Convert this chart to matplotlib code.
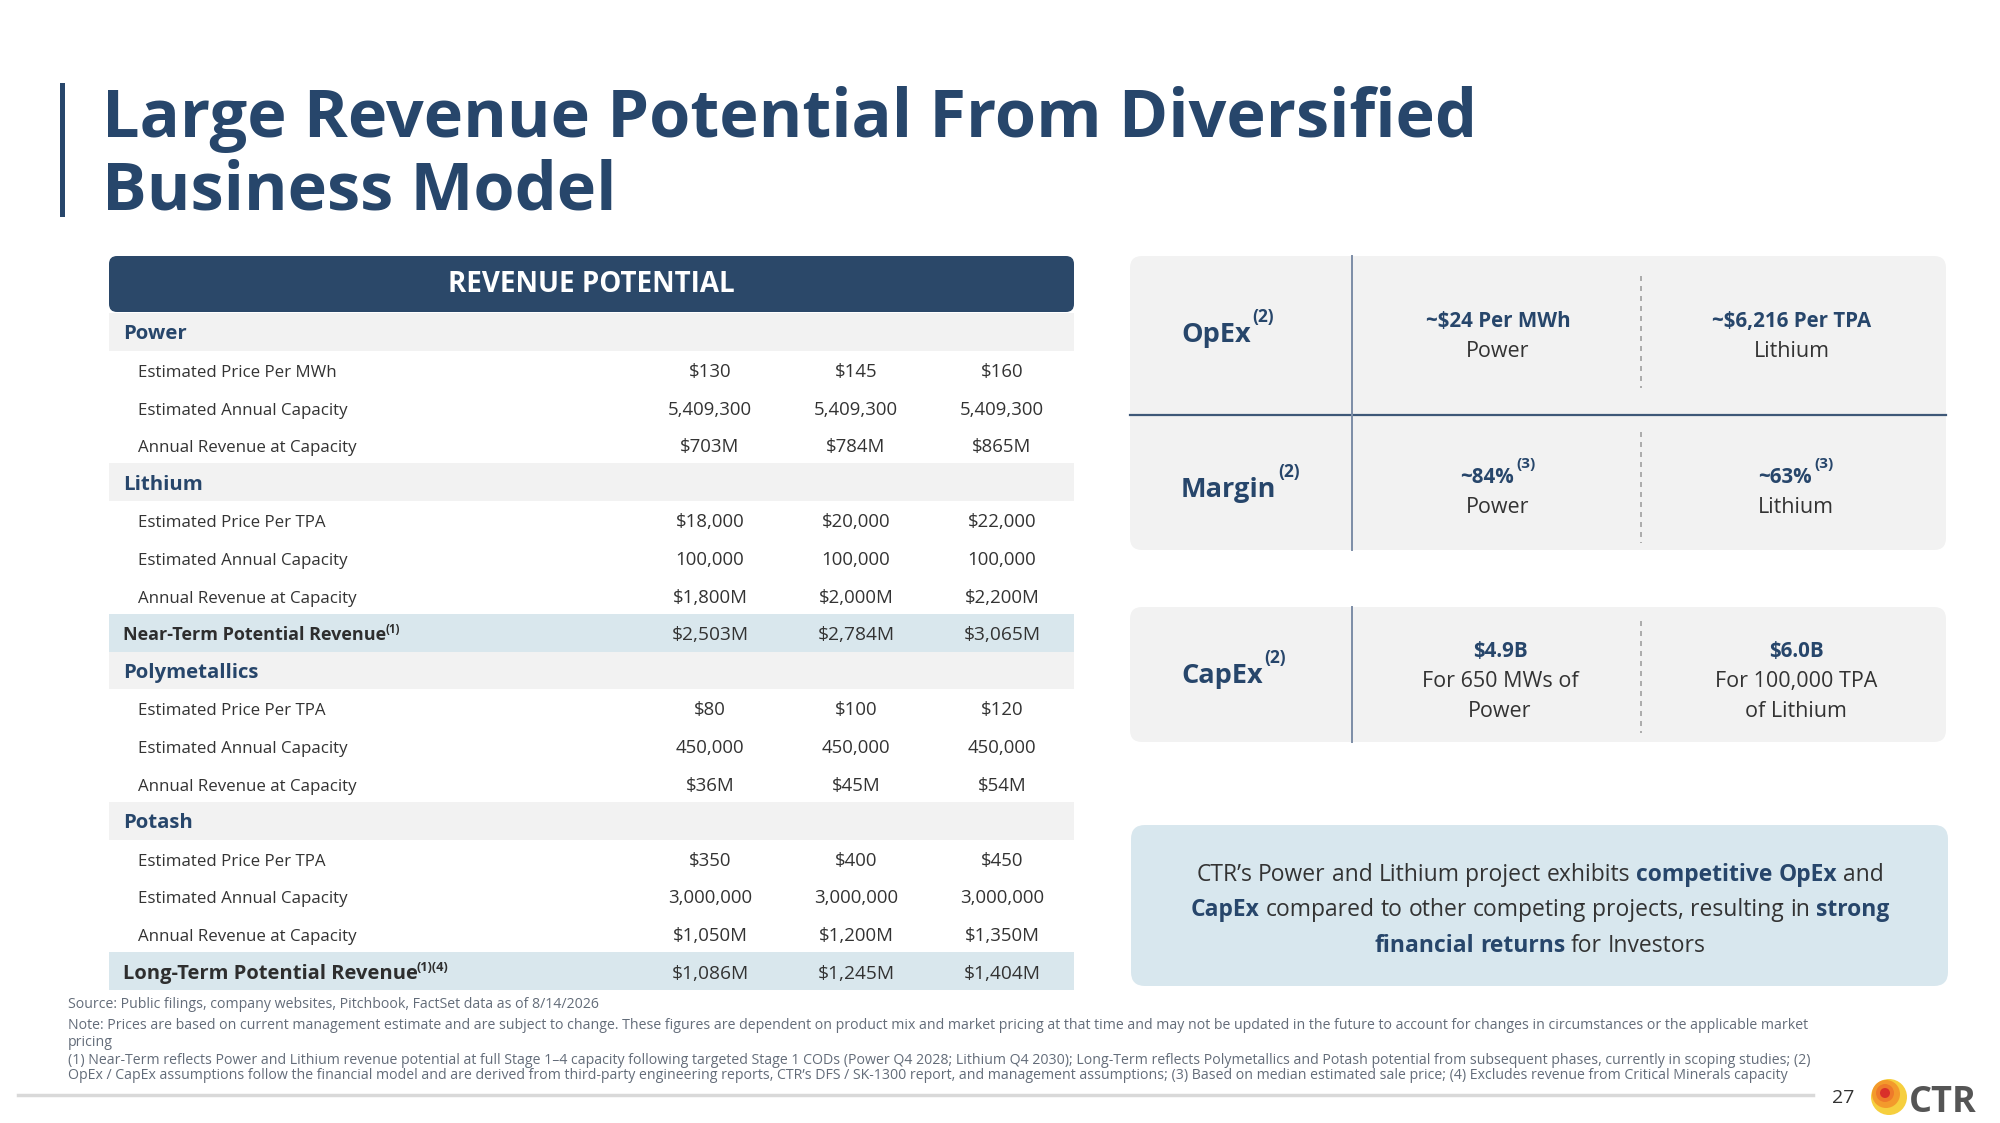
import matplotlib
matplotlib.use("Agg")
import matplotlib.pyplot as plt
from matplotlib.patches import FancyBboxPatch, Rectangle, Circle

plt.rcParams['font.family'] = ['Open Sans', 'DejaVu Sans']

# ---------------- data ----------------
title_lines = ["Large Revenue Potential From Diversified", "Business Model"]
table_title = "REVENUE POTENTIAL"

sections = ["Power", "Lithium", "Polymetallics", "Potash"]
power_labels = ["Estimated Price Per MWh", "Estimated Annual Capacity", "Annual Revenue at Capacity"]
other_labels = ["Estimated Price Per TPA", "Estimated Annual Capacity", "Annual Revenue at Capacity"]

power_price = [130, 145, 160]
power_capacity = [5409300, 5409300, 5409300]
power_revenue = [703, 784, 865]

lithium_price = [18000, 20000, 22000]
lithium_capacity = [100000, 100000, 100000]
lithium_revenue = [1800, 2000, 2200]

near_term_label = "Near-Term Potential Revenue"
near_term_note = "(1)"
near_term_revenue = [2503, 2784, 3065]

poly_price = [80, 100, 120]
poly_capacity = [450000, 450000, 450000]
poly_revenue = [36, 45, 54]

potash_price = [350, 400, 450]
potash_capacity = [3000000, 3000000, 3000000]
potash_revenue = [1050, 1200, 1350]

long_term_label = "Long-Term Potential Revenue"
long_term_note = "(1)(4)"
long_term_revenue = [1086, 1245, 1404]

opex_items = [("~$24 Per MWh", "Power"), ("~$6,216 Per TPA", "Lithium")]
margin_items = [("~84%", "Power"), ("~63%", "Lithium")]
capex_items = [("$4.9B", ["For 650 MWs of", "Power"]), ("$6.0B", ["For 100,000 TPA", "of Lithium"])]

callout_lines = [
    [("CTR\u2019s Power and Lithium project exhibits", False), ("competitive OpEx", True), ("and", False)],
    [("CapEx", True), ("compared to other competing projects, resulting in", False), ("strong", True)],
    [("financial returns", True), ("for Investors", False)],
]

footnotes = [
    "Source: Public filings, company websites, Pitchbook, FactSet data as of 8/14/2026",
    "Note: Prices are based on current management estimate and are subject to change. These figures are dependent on product mix and market pricing at that time and may not be updated in the future to account for changes in circumstances or the applicable market",
    "pricing",
    "(1) Near-Term reflects Power and Lithium revenue potential at full Stage 1\u20134 capacity following targeted Stage 1 CODs (Power Q4 2028; Lithium Q4 2030); Long-Term reflects Polymetallics and Potash potential from subsequent phases, currently in scoping studies; (2)",
    "OpEx / CapEx assumptions follow the financial model and are derived from third-party engineering reports, CTR\u2019s DFS / SK-1300 report, and management assumptions; (3) Based on median estimated sale price; (4) Excludes revenue from Critical Minerals capacity",
]
page_number = "27"

# ---------------- styles ----------------
NAVY = "#27466B"
DARK = "#333333"
GRAY_BAND = "#F2F2F2"
BLUE_BAND = "#D9E7ED"
FOOT = "#636C79"

fig = plt.figure(figsize=(20, 11.23), dpi=100)
ax = fig.add_axes([0, 0, 1, 1])
ax.set_xlim(0, 2000)
ax.set_ylim(1123, 0)
ax.axis('off')
fig.patch.set_facecolor('white')
renderer = fig.canvas.get_renderer()


def width_of(t):
    return t.get_window_extent(renderer).width


def fit_width(t, target):
    w = width_of(t)
    t.set_fontsize(t.get_fontsize() * target / w)


def space_width(size, weight):
    a = ax.text(0, 0, "a a", fontsize=size, weight=weight)
    b = ax.text(0, 0, "aa", fontsize=size, weight=weight)
    w = width_of(a) - width_of(b)
    a.remove(); b.remove()
    return w


# ---------------- title ----------------
ax.add_patch(Rectangle((60, 83), 5, 134, color=NAVY, lw=0))
t1 = ax.text(102, 137, title_lines[0], fontsize=48, weight='bold', color=NAVY, va='baseline')
fit_width(t1, 1375)
ax.text(102, 210, title_lines[1], fontsize=t1.get_fontsize(), weight='bold', color=NAVY, va='baseline')

# ---------------- table ----------------
TX0, TX1 = 109, 1074
ax.add_patch(FancyBboxPatch((TX0, 256), TX1 - TX0, 56, boxstyle="round,pad=0,rounding_size=8",
                            fc="#2B4869", ec="none"))
ax.text((TX0 + TX1) / 2, 285, table_title, fontsize=20, weight='bold', color='white',
        ha='center', va='center')

def money(v):
    return "$" + f"{v:,}"

def money_m(v):
    return "$" + f"{v:,}M"

def num(v):
    return f"{v:,}"

rows = []
groups = [
    (sections[0], power_labels, power_price, power_capacity, power_revenue),
    (sections[1], other_labels, lithium_price, lithium_capacity, lithium_revenue),
]
for name, labels, p, c, r in groups:
    rows.append(("section", name, None, None))
    rows.append(("data", labels[0], [money(v) for v in p], None))
    rows.append(("data", labels[1], [num(v) for v in c], None))
    rows.append(("data", labels[2], [money_m(v) for v in r], None))
rows.append(("total", near_term_label, [money_m(v) for v in near_term_revenue], near_term_note))
groups = [
    (sections[2], other_labels, poly_price, poly_capacity, poly_revenue),
    (sections[3], other_labels, potash_price, potash_capacity, potash_revenue),
]
for name, labels, p, c, r in groups:
    rows.append(("section", name, None, None))
    rows.append(("data", labels[0], [money(v) for v in p], None))
    rows.append(("data", labels[1], [num(v) for v in c], None))
    rows.append(("data", labels[2], [money_m(v) for v in r], None))
rows.append(("total2", long_term_label, [money_m(v) for v in long_term_revenue], long_term_note))

ROW0 = 313
RH = (990 - 313) / len(rows)
col_x = [710, 856, 1002]
for i, (kind, label, vals, note) in enumerate(rows):
    y0 = ROW0 + i * RH
    yc = y0 + RH / 2
    base = yc + 7.5
    if kind == "section":
        ax.add_patch(Rectangle((TX0, y0), TX1 - TX0, RH, fc=GRAY_BAND, ec="none"))
        ax.text(123, base, label, fontsize=14.7, weight='bold', color=NAVY, va='baseline')
    elif kind == "data":
        ax.text(138, base, label, fontsize=12.2, color=DARK, va='baseline')
    else:
        ax.add_patch(Rectangle((TX0, y0), TX1 - TX0, RH, fc=BLUE_BAND, ec="none"))
        fs = 13.0 if kind == "total" else 14.5
        t = ax.text(123, base, label, fontsize=fs, weight='bold', color="#2E2E2E", va='baseline')
        w = width_of(t)
        ax.text(123 + w - 1, base - fs * 0.55, note, fontsize=fs * 0.64, weight='bold',
                color="#2E2E2E", va='baseline')
    if vals is not None:
        fs = 13.4 if kind == "data" else 13.8
        for cx, v in zip(col_x, vals):
            ax.text(cx, base, v, fontsize=fs, color=DARK, ha='center', va='baseline')

# ---------------- right panels ----------------
PX0, PX1 = 1130, 1946
VX, DX = 1352, 1641
ax.add_patch(FancyBboxPatch((PX0, 256), PX1 - PX0, 294, boxstyle="round,pad=0,rounding_size=12",
                            fc="#F2F2F2", ec="none"))
ax.plot([PX0, PX1], [415, 415], color="#3E5878", lw=1.6)
ax.plot([VX, VX], [256, 550], color="#7C8DA6", lw=1.4)
ax.plot([DX, DX], [276, 388], color="#A0A0A0", lw=1.2, ls=(0, (3, 3)))
ax.plot([DX, DX], [432, 543], color="#A0A0A0", lw=1.2, ls=(0, (3, 3)))

ax.add_patch(FancyBboxPatch((PX0, 607), PX1 - PX0, 135, boxstyle="round,pad=0,rounding_size=12",
                            fc="#F2F2F2", ec="none"))
ax.plot([VX, VX], [607, 742], color="#7C8DA6", lw=1.4)
ax.plot([DX, DX], [621, 733], color="#A0A0A0", lw=1.2, ls=(0, (3, 3)))


def label_with_sup(x, y, text, sup, size, sup_dy):
    t = ax.text(x, y, text, fontsize=size, weight='bold', color=NAVY, va='baseline')
    w = width_of(t)
    ax.text(x + w + 2, y - sup_dy, sup, fontsize=12.5, weight='bold', color=NAVY, va='baseline')


label_with_sup(1181, 342, "OpEx", "(2)", 19.5, 20)
label_with_sup(1181, 497, "Margin", "(2)", 19.5, 20)
label_with_sup(1181, 683, "CapEx", "(2)", 19.5, 20)

val_x = [1498, 1792]
for cx, (top, sub) in zip(val_x, opex_items):
    ax.text(cx, 327, top, fontsize=14.8, weight='bold', color=NAVY, ha='center', va='baseline')
    ax.text(cx, 357, sub, fontsize=15.5, color=DARK, ha='center', va='baseline')

for cx, (top, sub) in zip([1498, 1796], margin_items):
    t = ax.text(0, 0, top, fontsize=14.8, weight='bold')
    w1 = width_of(t); t.remove()
    s = ax.text(0, 0, "(3)", fontsize=11, weight='bold')
    w2 = width_of(s); s.remove()
    x0 = cx - (w1 + 2 + w2) / 2
    ax.text(x0, 483, top, fontsize=14.8, weight='bold', color=NAVY, va='baseline')
    ax.text(x0 + w1 + 2, 468, "(3)", fontsize=11, weight='bold', color=NAVY, va='baseline')
    ax.text(cx, 513, sub, fontsize=15.5, color=DARK, ha='center', va='baseline')

for cx, (top, subs) in zip([1500, 1796], capex_items):
    ax.text(cx, 657, top, fontsize=14.8, weight='bold', color=NAVY, ha='center', va='baseline')
    for k, s in enumerate(subs):
        ax.text(cx, 687 + 30 * k, s, fontsize=15.5, color=DARK, ha='center', va='baseline')

# ---------------- callout ----------------
ax.add_patch(FancyBboxPatch((1131, 825), 817, 161, boxstyle="round,pad=0,rounding_size=14",
                            fc="#D8E7EE", ec="none"))
CFS = 16.5
sp = {False: space_width(CFS, 'normal'), True: space_width(CFS, 'bold')}
for li, line in enumerate(callout_lines):
    base = 881 + 35.5 * li
    words = []
    for seg, bold in line:
        for wd in seg.split(" "):
            words.append((wd, bold))
    widths = []
    for wd, bold in words:
        t = ax.text(0, 0, wd, fontsize=CFS, weight='bold' if bold else 'normal')
        widths.append(width_of(t)); t.remove()
    total = sum(widths) + sum(sp[False] for _ in words[1:])
    x = 1540 - total / 2
    for (wd, bold), w in zip(words, widths):
        ax.text(x, base, wd, fontsize=CFS, weight='bold' if bold else 'normal',
                color=NAVY if bold else DARK, va='baseline')
        x += w + sp[False]

# ---------------- footnotes ----------------
fn_base = [1008, 1029, 1046, 1064, 1079]
ft = ax.text(68, fn_base[1], footnotes[1], fontsize=10, color=FOOT, va='baseline')
fit_width(ft, 1745)
FFS = ft.get_fontsize()
for k, (s, b) in enumerate(zip(footnotes, fn_base)):
    if k == 1:
        continue
    ax.text(68, b, s, fontsize=FFS, color=FOOT, va='baseline')

ax.plot([18, 1813], [1095, 1095], color="#D9D9D9", lw=2.5)
ax.text(1843, 1103, page_number, fontsize=14, color=DARK, ha='center', va='baseline')

# logo
ax.add_patch(Circle((1889, 1097), 18, fc="#F6CF3E", ec="none"))
ax.add_patch(Circle((1886, 1094), 14, fc="#F39A2C", ec="none"))
ax.add_patch(Circle((1885, 1093), 9, fc="#EE7A2A", ec="none"))
ax.add_patch(Circle((1885, 1093), 5, fc="#D9302A", ec="none"))
ax.text(1909, 1112, "CTR", fontsize=26, weight='bold', color="#555555", va='baseline')

fig.savefig("out.png", dpi=100, facecolor='white')
